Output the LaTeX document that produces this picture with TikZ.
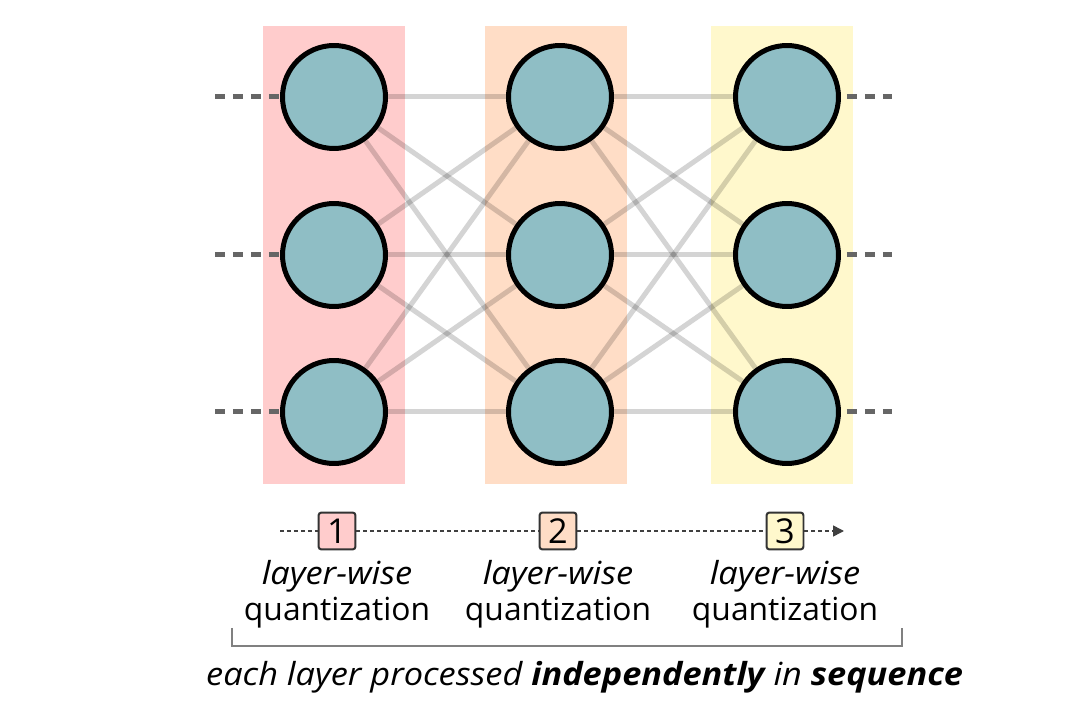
\documentclass[tikz,border=0pt]{standalone}
\usepackage{fontspec}
\setmainfont{Open Sans}[ItalicFeatures={FakeStretch=1.08},BoldItalicFeatures={FakeStretch=1.08}]
\usetikzlibrary{arrows.meta}
\definecolor{neuron}{RGB}{143,190,197}
\definecolor{layerA}{RGB}{255,204,204}
\definecolor{layerB}{RGB}{255,221,198}
\definecolor{layerC}{RGB}{255,248,204}
\begin{document}
\begin{tikzpicture}
[x=0.02cm,y=-0.02cm,
  neurondecorate/.style={shape=circle,minimum size=2.06cm,inner sep=0pt,draw=black,line width=0.1cm,fill=neuron},%
  weightdecorate/.style={draw=black,draw opacity=0.17,line width=0.1cm},%
  stubdecorate/.style={draw=black!60,line width=0.1cm,dash pattern=on 0.2cm off 0.16cm},%
  stepdecorate/.style={shape=rectangle,minimum size=0.74cm,inner sep=0pt,rounded corners=0.06cm,draw=black!80,line width=0.04cm,font=\fontsize{19.5}{19.5}\selectfont},%
  orderdecorate/.style={draw=black!75,line width=0.03cm,dash pattern=on 0.08cm off 0.06cm},%
  labeldecorate/.style={align=center,font=\fontsize{18.1}{20.5}\selectfont}]
\useasboundingbox (0,0) rectangle (1080,716);
% layer backgrounds
\fill[layerA] (263,26) rectangle (405,484);
\fill[layerB] (485,26) rectangle (627,484);
\fill[layerC] (711,26) rectangle (853,484);
% nodes or neurons
\node (a1) at (334,97) [neurondecorate] {};
\node (a2) at (334,255) [neurondecorate] {};
\node (a3) at (334,412) [neurondecorate] {};
\node (b1) at (560,97) [neurondecorate] {};
\node (b2) at (560,255) [neurondecorate] {};
\node (b3) at (560,412) [neurondecorate] {};
\node (c1) at (787,97) [neurondecorate] {};
\node (c2) at (787,255) [neurondecorate] {};
\node (c3) at (787,412) [neurondecorate] {};
% loose ends
\coordinate (in1) at (215,97);
\coordinate (in2) at (215,255);
\coordinate (in3) at (215,412);
\coordinate (out1) at (892,97);
\coordinate (out2) at (892,255);
\coordinate (out3) at (892,412);
% weights
\path
(a1) edge[weightdecorate] (b1)
(a1) edge[weightdecorate] (b2)
(a1) edge[weightdecorate] (b3)
(a2) edge[weightdecorate] (b1)
(a2) edge[weightdecorate] (b2)
(a2) edge[weightdecorate] (b3)
(a3) edge[weightdecorate] (b1)
(a3) edge[weightdecorate] (b2)
(a3) edge[weightdecorate] (b3)
(b1) edge[weightdecorate] (c1)
(b1) edge[weightdecorate] (c2)
(b1) edge[weightdecorate] (c3)
(b2) edge[weightdecorate] (c1)
(b2) edge[weightdecorate] (c2)
(b2) edge[weightdecorate] (c3)
(b3) edge[weightdecorate] (c1)
(b3) edge[weightdecorate] (c2)
(b3) edge[weightdecorate] (c3);
\path
(in1) edge[stubdecorate] (a1)
(in2) edge[stubdecorate] (a2)
(in3) edge[stubdecorate] (a3)
(c1) edge[stubdecorate,shorten <=0.12cm] (out1)
(c2) edge[stubdecorate,shorten <=0.12cm] (out2)
(c3) edge[stubdecorate,shorten <=0.12cm] (out3);
% order of quantization
\node (s1) at (337,531) [stepdecorate,fill=layerA] {1};
\node (s2) at (558,531) [stepdecorate,fill=layerB] {2};
\node (s3) at (785,531) [stepdecorate,fill=layerC] {3};
\coordinate (start) at (280,531);
\coordinate (stop) at (844,531);
\path
(start) edge[orderdecorate] (s1)
(s1) edge[orderdecorate] (s2)
(s2) edge[orderdecorate] (s3)
(s3) edge[orderdecorate,-{Triangle[length=0.22cm,width=0.22cm]}] (stop);
\node (q1) [labeldecorate,below,yshift=-0.07cm] at (s1.south) {\itshape layer-wise\\quantization};
\node (q2) [labeldecorate,below,yshift=-0.07cm] at (s2.south) {\itshape layer-wise\\quantization};
\node (q3) [labeldecorate,below,yshift=-0.07cm] at (s3.south) {\itshape layer-wise\\quantization};
% bracket
\draw[black!50,line width=0.04cm] (232,628) -- (232,646) -- (902,646) -- (902,628);
\node (note) [labeldecorate,anchor=west] at (200,677) {\itshape each layer processed \textbf{independently} in \textbf{sequence}};
\end{tikzpicture}
\end{document}
